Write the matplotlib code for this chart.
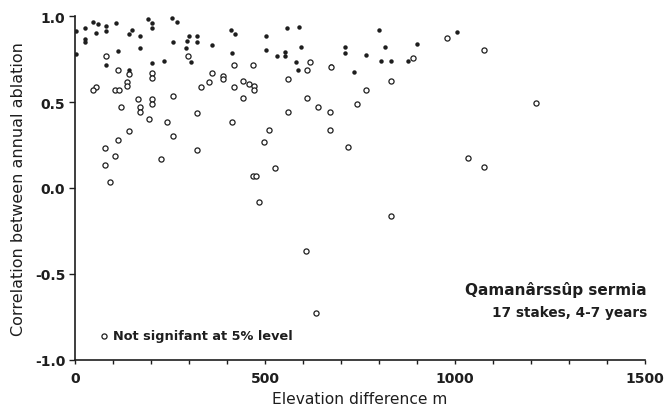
import matplotlib.pyplot as plt
from matplotlib.ticker import MultipleLocator

################ styling #################
plt.rc('font', family='DejaVu Sans', weight='bold', size=10)
ink = '#1e1e1e'

##############################################
# data
##############################################

# significant correlations (filled dots)
x_sig = [3, 3, 27, 27, 27, 48, 61, 82, 82, 108, 55, 191, 203, 203, 149, 142,
         171, 171, 114, 255, 268, 257, 299, 296, 292, 322, 322, 360, 306, 234,
         204, 412, 421, 413, 504, 504, 532, 553, 553, 559, 83, 143, 589, 596,
         582, 588, 711, 711, 675, 766, 799, 815, 806, 831, 734, 876, 899, 1006]
y_sig = [0.915, 0.779, 0.928, 0.866, 0.847, 0.963, 0.952, 0.940, 0.913, 0.959,
         0.901, 0.983, 0.959, 0.932, 0.917, 0.897, 0.882, 0.816, 0.797, 0.987,
         0.963, 0.847, 0.882, 0.855, 0.816, 0.882, 0.851, 0.831, 0.731, 0.738,
         0.727, 0.917, 0.897, 0.785, 0.885, 0.801, 0.769, 0.792, 0.766, 0.932,
         0.715, 0.688, 0.936, 0.818, 0.734, 0.686, 0.818, 0.785, 0.711, 0.771,
         0.920, 0.822, 0.738, 0.738, 0.673, 0.738, 0.837, 0.905]

# not significant at 5% level (open circles)
x_ns = [83, 113, 143, 202, 202, 136, 136, 55, 48, 106, 115, 166, 203, 203,
        171, 171, 120, 259, 331, 353, 361, 390, 390, 419, 443, 457, 471, 471,
        442, 469, 419, 297, 322, 561, 561,
        618, 610, 675, 831, 766, 743, 611, 640, 671, 890, 978, 1076, 1213,
        196, 242, 413, 511, 497, 526, 469, 476, 485, 143, 113, 78, 106, 78,
        92, 226, 259, 322, 671, 719, 1035, 832, 1076, 608, 634]
y_ns = [0.766, 0.684, 0.665, 0.669, 0.638, 0.615, 0.591, 0.587, 0.568, 0.568,
        0.568, 0.517, 0.517, 0.487, 0.471, 0.440, 0.471, 0.533, 0.587, 0.618,
        0.669, 0.653, 0.634, 0.587, 0.622, 0.606, 0.591, 0.572, 0.522, 0.715,
        0.715, 0.769, 0.436, 0.634, 0.440,
        0.734, 0.684, 0.702, 0.622, 0.572, 0.490, 0.521, 0.471, 0.440, 0.754,
        0.870, 0.804, 0.492,
        0.401, 0.386, 0.386, 0.339, 0.266, 0.118, 0.068, 0.068, -0.080, 0.331,
        0.281, 0.234, 0.184, 0.134, 0.037, 0.169, 0.301, 0.219, 0.335, 0.238,
        0.174, -0.161, 0.122, -0.364, -0.727]

x_ticks = [0, 500, 1000, 1500]
y_ticks = [-1.0, -0.5, 0.0, 0.5, 1.0]

##############################################
# plot
##############################################

fig = plt.figure(figsize=(6.69, 4.06), dpi=100)
ax = fig.add_axes([0.112, 0.111, 0.852, 0.847])

ax.plot(x_sig, y_sig, linestyle='none', marker='o', markersize=3.2,
        color=ink, markeredgewidth=0)
ax.plot(x_ns, y_ns, linestyle='none', marker='o', markersize=3.7,
        markerfacecolor='white', markeredgecolor=ink, markeredgewidth=0.9)

ax.set_xlim(0, 1500)
ax.set_ylim(-1.0, 1.0)
ax.set_xticks(x_ticks)
ax.set_yticks(y_ticks)
ax.set_yticklabels(['%.1f' % v for v in y_ticks])
ax.xaxis.set_minor_locator(MultipleLocator(100))

for side in ['top', 'right']:
    ax.spines[side].set_visible(False)
for side in ['left', 'bottom']:
    ax.spines[side].set_color(ink)
    ax.spines[side].set_linewidth(1.2)

ax.tick_params(axis='x', which='both', direction='out', length=3, width=1,
               colors=ink, pad=5)
ax.tick_params(axis='y', which='major', direction='out', length=4, width=1,
               colors=ink, pad=3)

ax.set_xlabel('Elevation difference m', color=ink, fontsize=11.2, labelpad=4)
ax.set_ylabel('Correlation between annual ablation', color=ink, fontsize=11.5)
ax.yaxis.set_label_coords(-0.086, 0.5)

# annotations
ax.text(1505, -0.59, 'Qamanârssûp sermia', ha='right', va='center',
        color=ink, fontsize=11, clip_on=False)
ax.text(1505, -0.72, '17 stakes, 4-7 years', ha='right', va='center',
        color=ink, fontsize=9.8, clip_on=False)
ax.plot([76], [-0.86], linestyle='none', marker='o', markersize=3.7,
        markerfacecolor='white', markeredgecolor=ink, markeredgewidth=0.9)
ax.text(100, -0.86, 'Not signifant at 5% level', ha='left', va='center',
        color=ink, fontsize=9.3)

plt.savefig('out.png', dpi=100)
